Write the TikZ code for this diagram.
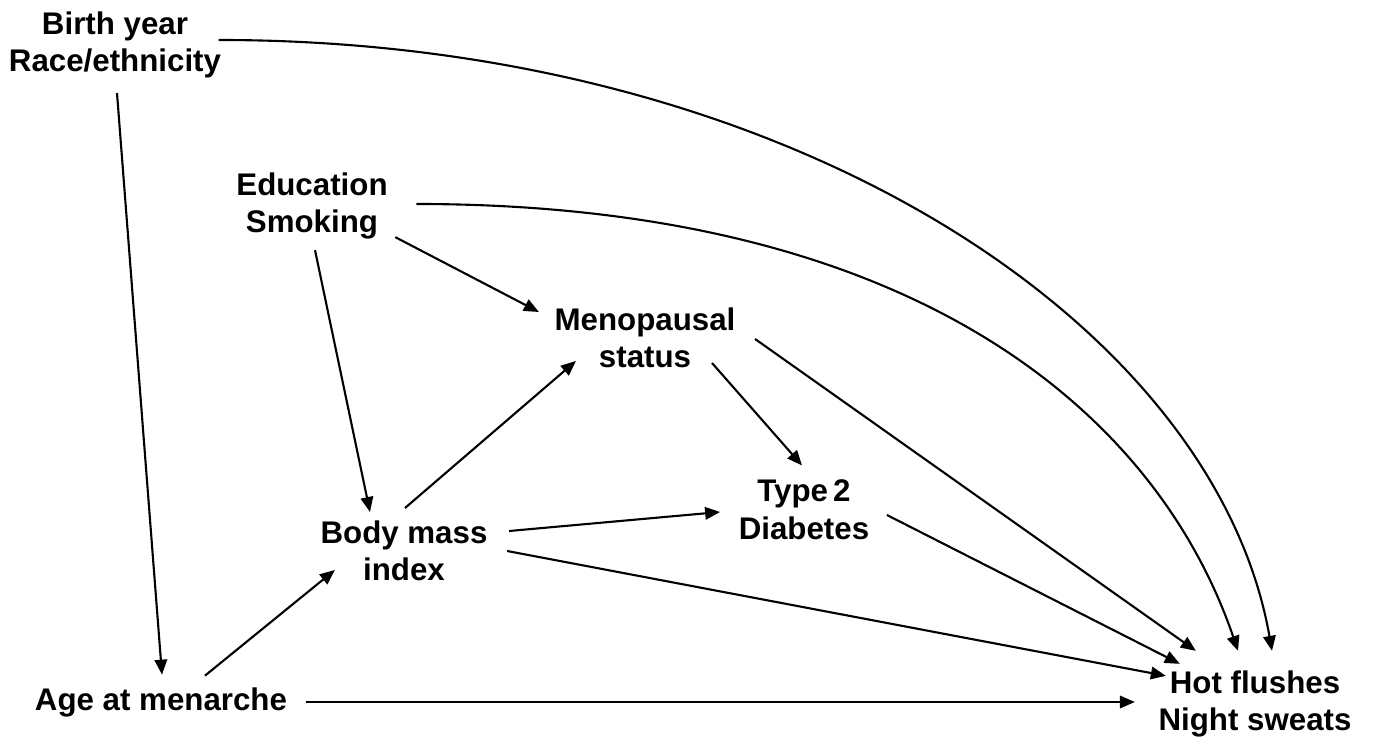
\documentclass[tikz,border=0pt]{standalone}
\usepackage{fontspec}
\setmainfont{Liberation Sans}
\usetikzlibrary{arrows.meta, positioning}
\tikzset{
  arrowK/.style={-{Triangle[length=1.5mm, width=1.25mm]}, black, line width=0.6pt},
  boxV/.style={inner sep=0pt, align=center, font=\fontsize{8.9}{10.7}\selectfont\bfseries},
}
\begin{document}
\begin{tikzpicture}[x=0.1mm, y=-0.1mm]
    \useasboundingbox (0,0) rectangle (1373,745);
    % variables
    \node[boxV] (birth) at (115,45)  {Birth year\\Race/ethnicity};
    \node[boxV] (edu)   at (312,206) {Education\\Smoking};
    \node[boxV] (meno)  at (645,338) {Menopausal\\status};
    \node[boxV] (type2) at (804,510) {Type\,2\\Diabetes};
    \node[boxV] (bmi)   at (404,551) {Body mass\\index};
    \node[boxV] (age)   at (161,702) {Age at menarche};
    \node[boxV] (hot)   at (1255,704) {Hot flushes\\Night sweats};
    % long curved paths
    \draw[arrowK] ([xshift=-0.3mm,yshift=0.5mm]birth.east)
      .. controls +(572,0) and +(-57,-325) .. ([xshift=1.7mm,yshift=1.9mm]hot.north);
    \draw[arrowK] ([xshift=2.8mm,yshift=0.2mm]edu.east)
      .. controls +(500,0) and +(-81,-237) .. ([xshift=-1.7mm,yshift=1.9mm]hot.north);
    % straight paths
    \draw[arrowK] ([xshift=0.2mm,yshift=-1.4mm]birth.south) -- ([xshift=0.1mm,yshift=1.2mm]age.north);
    \draw[arrowK] ([xshift=0.3mm,yshift=-1mm]edu.south) -- ([xshift=-3.4mm,yshift=0.8mm]bmi.north);
    \draw[arrowK] ([xshift=0.7mm,yshift=0.3mm]edu.south east) -- ([xshift=-1.5mm,yshift=-0.5mm]meno.north west);
    \draw[arrowK] ([xshift=6.7mm,yshift=0.6mm]meno.south) -- ([xshift=-0.2mm,yshift=1.4mm]type2.north);
    \draw[arrowK] ([xshift=1.9mm,yshift=-0.1mm]meno.east) -- ([xshift=3.8mm,yshift=1.9mm]hot.north west);
    \draw[arrowK] ([xshift=0.1mm,yshift=1.2mm]bmi.north) -- ([xshift=2.2mm,yshift=0.8mm]meno.south west);
    \draw[arrowK] ([xshift=2.1mm,yshift=2mm]bmi.east) -- ([xshift=-1.8mm,yshift=-0.2mm]type2.west);
    \draw[arrowK] ([xshift=1.9mm]bmi.east) -- ([xshift=0.8mm,yshift=-0.6mm]hot.north west);
    \draw[arrowK] ([xshift=1.7mm,yshift=-0.5mm]type2.east) -- ([xshift=2.2mm,yshift=0.6mm]hot.north west);
    \draw[arrowK] ([xshift=4.4mm,yshift=1.1mm]age.north) -- ([xshift=1.5mm,yshift=-1.9mm]bmi.west);
    \draw[arrowK, shorten <=1.8mm, shorten >=2.3mm] (age.east) -- (age.east -| hot.west);
\end{tikzpicture}
\end{document}
